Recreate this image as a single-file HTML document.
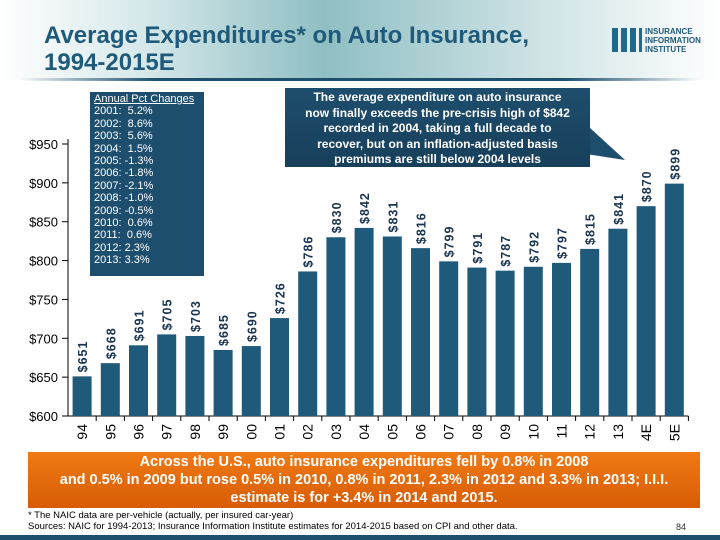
<!DOCTYPE html>
<html><head><meta charset="utf-8"><style>
body{margin:0;width:720px;height:540px;overflow:hidden;background:#fff;font-family:"Liberation Sans",sans-serif;position:relative}
.abs{position:absolute}
</style></head><body>
<div class="abs" style="left:0;top:0;width:720px;height:80px;background:linear-gradient(90deg,#fff 0%,#d6e8ea 20%,#8fbfc3 45%,#cfe3e5 75%,#fff 100%)"></div>
<div class="abs" style="left:20px;top:78px;width:680px;height:3px;background:linear-gradient(90deg,rgba(30,80,110,0),#1e506e 20%,#1e506e 80%,rgba(30,80,110,0))"></div>
<div class="abs" style="left:44px;top:22px;color:#1f5a7a;font-weight:bold;font-size:24px;line-height:27px">Average Expenditures* on Auto Insurance,<br>1994-2015E</div>
<div class="abs" style="left:612px;top:28px;width:30px;height:24px;background:repeating-linear-gradient(90deg,#1f6a8a 0 6px,transparent 6px 9px)"></div>
<div class="abs" style="left:645px;top:27px;color:#1f5a7a;font-weight:bold;font-size:8px;line-height:9px">INSURANCE<br>INFORMATION<br>INSTITUTE</div>
<svg class="abs" style="left:0;top:0" width="720" height="540">
<g id="g"></g>
</svg>
<div class="abs" style="left:90px;top:92px;width:114px;height:184px;background:#1e4e6e;color:#fff;font-size:11px;line-height:12.4px;padding:1px 4px;box-sizing:border-box">
<u>Annual Pct Changes</u><br>2001:&nbsp; 5.2%<br>2002:&nbsp; 8.6%<br>2003:&nbsp; 5.6%<br>2004:&nbsp; 1.5%<br>2005: -1.3%<br>2006: -1.8%<br>2007: -2.1%<br>2008: -1.0%<br>2009: -0.5%<br>2010:&nbsp; 0.6%<br>2011:&nbsp; 0.6%<br>2012: 2.3%<br>2013: 3.3%</div>
<svg class="abs" style="left:0;top:0" width="720" height="540"><polygon points="560,150 590,128 625,160" fill="#1e4e6e"/></svg>
<div class="abs" style="left:285px;top:88px;width:305px;height:79px;background:linear-gradient(#1e4e6e,#173f5a);color:#fff;font-weight:bold;font-size:12px;line-height:15.5px;text-align:center;padding:2px 16px 0;box-sizing:border-box">The average expenditure on auto insurance now finally exceeds the pre-crisis high of $842 recorded in 2004, taking a full decade to recover, but on an inflation-adjusted basis premiums are still below 2004 levels</div>
<div class="abs" style="left:28px;top:452px;width:672px;height:56px;background:linear-gradient(#f07a14,#d85c05);color:#fff;font-weight:bold;font-size:14.5px;line-height:18px;text-align:center;padding-top:1px;box-sizing:border-box">Across the U.S., auto insurance expenditures fell by 0.8% in 2008<br>and 0.5% in 2009 but rose 0.5% in 2010, 0.8% in 2011, 2.3% in 2012 and 3.3% in 2013; I.I.I.<br>estimate is for +3.4% in 2014 and 2015.</div>
<div class="abs" style="left:28px;top:510px;font-size:9.5px;line-height:11px;color:#000">* The NAIC data are per-vehicle (actually, per insured car-year)<br>Sources: NAIC for 1994-2013; Insurance Information Institute estimates for 2014-2015 based on CPI and other data.</div>
<div class="abs" style="left:676px;top:522px;font-size:9px;color:#333">84</div>
<div class="abs" style="left:0;top:535px;width:720px;height:5px;background:#1e4e6e"></div>
<script>
const categories=["94","95","96","97","98","99","00","01","02","03","04","05","06","07","08","09","10","11","12","13","4E","5E"];
const values=[651,668,691,705,703,685,690,726,786,830,842,831,816,799,791,787,792,797,815,841,870,899];
const valueLabels=["$651","$668","$691","$705","$703","$685","$690","$726","$786","$830","$842","$831","$816","$799","$791","$787","$792","$797","$815","$841","$870","$899"];
const yTicks=[600,650,700,750,800,850,900,950];
const NS="http://www.w3.org/2000/svg";
const g=document.getElementById('g');
const x0=68,step=28.2,bw=19,yBase=416,yMin=600,k=272/350;
const X=i=>x0+i*step;
const Y=v=>yBase-(v-yMin)*k;
function mk(t,a){const e=document.createElementNS(NS,t);for(const p in a)e.setAttribute(p,a[p]);g.appendChild(e);return e;}
yTicks.forEach(v=>{
 const t=mk('text',{x:58,y:Y(v)+5,'text-anchor':'end','font-size':13,fill:'#000','font-family':'Liberation Sans'});
 t.textContent='$'+v;
 
 
 const l=mk('line',{x1:62,x2:68,y1:Y(v),y2:Y(v),stroke:'#000'});
 
 
});
const ax=mk('line',{x1:68,x2:68,y1:Y(950)-5,y2:yBase,stroke:'#000'});


const xa=mk('line',{x1:68,x2:X(categories.length),y1:yBase,y2:yBase,stroke:'#000'});


categories.forEach((c,i)=>{
 const bx=X(i)+(step-bw)/2;
 const r=mk('rect',{x:bx,y:Y(values[i]),width:bw,height:yBase-Y(values[i]),fill:'#1f5a7a'});
 
 
 const tk=mk('line',{x1:X(i+1),x2:X(i+1),y1:yBase,y2:yBase+5,stroke:'#000'});
 
 
 const cx=X(i)+step/2+5, cy=yBase+8;
 const lb=mk('text',{x:cx,y:cy,transform:`rotate(-90 ${cx} ${cy})`,'text-anchor':'end','font-size':14,fill:'#000','font-family':'Liberation Sans'});
 lb.textContent=c;
 
 
 const vx=X(i)+step/2+5, vy=Y(values[i])-4;
 const vl=mk('text',{x:vx,y:vy,transform:`rotate(-90 ${vx} ${vy})`,'font-size':12.5,'font-weight':'bold',fill:'#1a3550','letter-spacing':'1','font-family':'Liberation Sans'});
 vl.textContent=valueLabels[i];
 
 
});
</script>
</body></html>
